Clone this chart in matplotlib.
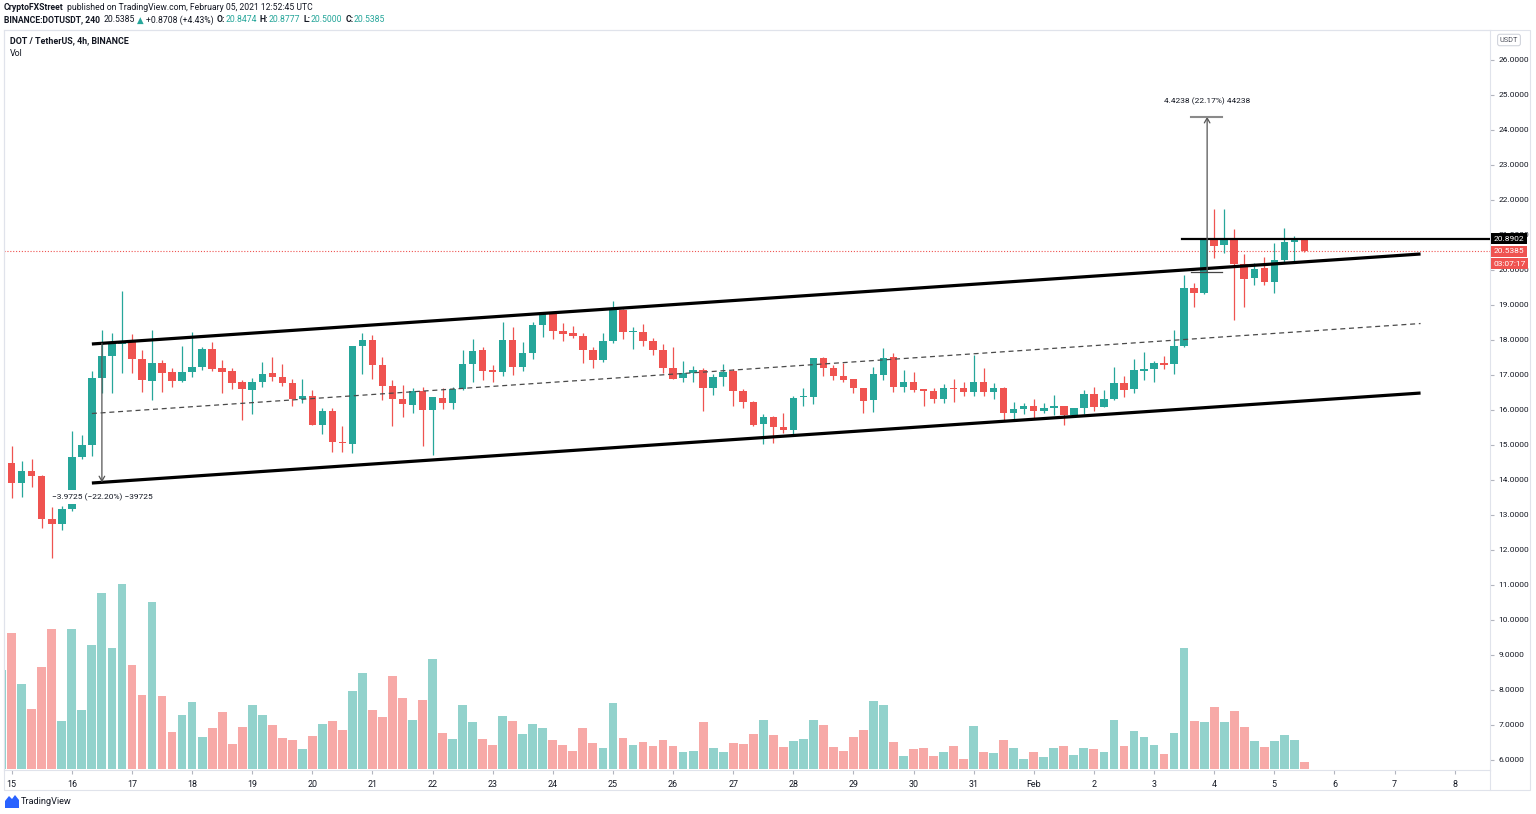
import matplotlib
matplotlib.use("Agg")
import matplotlib.pyplot as plt
from matplotlib import font_manager
from matplotlib.patches import Rectangle, Polygon
from matplotlib.lines import Line2D
from matplotlib.transforms import blended_transform_factory

# ---------------------------------------------------------------- data
# 4h candles of DOT/USDT (Binance). Index 0 = 15 Jan 2021 00:00 UTC, first entry = index -1.
first_candle = -1
opens = [12.71,
    14.49, 13.90, 14.27, 14.11, 12.88, 12.73,   # 15 Jan
    13.17, 14.65, 15.01, 16.92, 17.54, 17.89,   # 16
    17.93, 17.46, 16.84, 17.33, 17.08, 16.83,   # 17
    17.08, 17.22, 17.74, 17.19, 17.11, 16.79,   # 18
    16.57, 16.81, 17.05, 16.94, 16.77, 16.30,   # 19
    16.40, 15.56, 15.97, 15.09, 15.03, 17.83,   # 20
    17.99, 17.29, 16.69, 16.32, 16.15, 16.53,   # 21
    15.99, 16.34, 16.21, 16.59, 17.30, 17.70,   # 22
    17.14, 17.08, 17.99, 17.23, 17.64, 18.44,   # 23
    18.73, 18.26, 18.19, 18.12, 17.70, 17.43,   # 24
    17.97, 18.86, 18.22, 18.24, 17.98, 17.70,   # 25
    17.21, 16.92, 17.05, 17.14, 16.62, 16.95,   # 26
    17.12, 16.55, 16.22, 15.60, 15.79, 15.50,   # 27
    15.43, 16.36, 16.38, 17.48, 17.21, 16.98,   # 28
    16.88, 16.64, 16.29, 17.00, 17.51, 16.67,   # 29
    16.81, 16.59, 16.55, 16.30, 16.62, 16.64,   # 30
    16.52, 16.81, 16.50, 16.62, 15.92, 16.02,   # 31
    16.11, 15.98, 16.05, 16.11, 15.86, 16.05,   # 1 Feb
    16.45, 16.09, 16.30, 16.76, 16.59, 17.12,   # 2
    17.17, 17.33, 17.31, 17.83, 19.48, 19.35,   # 3
    20.89, 20.70, 20.89, 20.16, 19.76, 20.05,   # 4
    19.67, 20.29, 20.79, 20.8474]               # 5
highs = [14.55,
    14.98, 14.54, 14.60, 14.14, 13.24, 13.26,
    15.40, 15.29, 17.10, 18.29, 18.19, 19.40,
    18.17, 17.71, 18.29, 17.43, 17.19, 17.84,
    18.22, 17.81, 17.95, 17.43, 17.19, 16.86,
    16.90, 17.38, 17.50, 17.31, 16.88, 16.88,
    16.57, 16.05, 16.05, 15.54, 17.83, 18.21,
    18.14, 17.50, 16.86, 16.71, 16.62, 16.65,
    16.38, 16.64, 16.65, 17.71, 18.02, 17.81,
    17.29, 18.50, 18.36, 17.95, 18.52, 18.81,
    18.81, 18.48, 18.40, 18.21, 17.81, 18.19,
    19.11, 18.88, 18.36, 18.46, 18.07, 17.88,
    17.81, 17.40, 17.26, 17.19, 17.03, 17.31,
    17.16, 16.59, 16.26, 15.89, 15.83, 15.90,
    16.40, 16.64, 17.48, 17.52, 17.29, 17.33,
    16.88, 16.64, 17.24, 17.76, 17.62, 17.14,
    17.08, 16.59, 16.62, 16.73, 16.89, 16.79,
    17.57, 17.19, 16.76, 16.65, 16.22, 16.21,
    16.31, 16.21, 16.43, 16.12, 16.07, 16.57,
    16.67, 16.57, 17.24, 16.98, 17.45, 17.67,
    17.41, 17.55, 18.29, 19.86, 19.62, 20.92,
    21.74, 21.74, 21.16, 20.46, 20.19, 20.36,
    20.76, 21.21, 20.98, 20.8777]
lows = [12.65,
    13.48, 13.52, 13.81, 12.64, 11.76, 12.57,
    13.10, 14.60, 14.69, 16.48, 16.48, 17.05,
    17.05, 16.50, 16.29, 16.52, 16.67, 16.81,
    16.93, 17.14, 17.10, 16.48, 16.59, 15.70,
    15.89, 16.65, 16.84, 16.69, 16.10, 16.19,
    15.56, 15.31, 14.81, 14.81, 14.78, 17.02,
    16.88, 16.28, 15.55, 15.81, 15.90, 14.98,
    14.71, 16.03, 16.03, 16.58, 16.81, 16.86,
    16.81, 16.98, 17.00, 17.10, 17.46, 18.08,
    18.03, 17.98, 18.05, 17.33, 17.21, 17.38,
    17.92, 18.02, 17.74, 17.84, 17.57, 17.07,
    16.89, 16.81, 16.81, 15.98, 16.43, 16.69,
    16.10, 16.05, 15.54, 15.02, 15.07, 15.33,
    15.27, 16.10, 16.17, 16.98, 16.86, 16.81,
    16.48, 15.92, 15.95, 16.86, 16.50, 16.52,
    16.50, 16.11, 16.19, 16.21, 16.24, 16.41,
    16.41, 16.40, 16.30, 15.71, 15.70, 15.89,
    15.73, 15.92, 15.86, 15.57, 15.81, 15.88,
    15.98, 16.08, 16.28, 16.38, 16.48, 16.86,
    16.79, 17.17, 17.03, 17.81, 18.95, 19.30,
    20.35, 20.48, 18.57, 18.95, 19.57, 19.57,
    19.33, 20.24, 20.26, 20.50]
closes = [14.49,
    13.91, 14.27, 14.11, 12.88, 12.74, 13.17,
    14.65, 15.01, 16.92, 17.54, 17.89, 17.95,
    17.46, 16.86, 17.35, 17.05, 16.83, 17.08,
    17.24, 17.74, 17.18, 17.08, 16.78, 16.59,
    16.81, 17.02, 16.95, 16.76, 16.30, 16.40,
    15.56, 15.97, 15.08, 15.05, 17.83, 17.99,
    17.29, 16.69, 16.32, 16.16, 16.55, 15.99,
    16.36, 16.21, 16.59, 17.31, 17.69, 17.11,
    17.08, 17.99, 17.23, 17.64, 18.44, 18.73,
    18.26, 18.18, 18.12, 17.70, 17.43, 17.97,
    18.86, 18.22, 18.24, 17.98, 17.70, 17.21,
    16.89, 17.05, 17.14, 16.62, 16.95, 17.09,
    16.55, 16.22, 15.57, 15.79, 15.50, 15.43,
    16.34, 16.38, 17.48, 17.21, 16.97, 16.86,
    16.62, 16.27, 17.02, 17.48, 16.67, 16.81,
    16.57, 16.55, 16.31, 16.62, 16.60, 16.52,
    16.81, 16.51, 16.62, 15.90, 16.03, 16.11,
    15.98, 16.05, 16.11, 15.86, 16.05, 16.45,
    16.09, 16.31, 16.76, 16.57, 17.14, 17.17,
    17.33, 17.29, 17.83, 19.48, 19.35, 20.89,
    20.69, 20.89, 20.16, 19.73, 20.03, 19.65,
    20.29, 20.81, 20.88, 20.5385]
# volume, thousand DOT (estimated)
volumes = [990,
    1357, 847, 603, 1017, 1397, 480,
    1400, 590, 1240, 1763, 1207, 1850,
    1037, 740, 1670, 730, 373, 537,
    670, 320, 413, 570, 247, 423,
    643, 543, 437, 313, 287, 197,
    327, 450, 483, 390, 780, 963,
    590, 523, 930, 713, 490, 690,
    1100, 360, 300, 643, 467, 300,
    237, 530, 480, 353, 447, 413,
    290, 243, 180, 413, 257, 210,
    663, 310, 243, 270, 230, 290,
    230, 173, 180, 467, 210, 167,
    257, 250, 353, 493, 340, 217,
    277, 303, 487, 440, 223, 180,
    320, 387, 683, 637, 270, 133,
    200, 207, 133, 167, 230, 100,
    433, 167, 160, 290, 207, 100,
    167, 120, 207, 230, 140, 207,
    200, 167, 487, 230, 383, 317,
    237, 147, 363, 1207, 480, 473,
    617, 467, 580, 420, 277, 223,
    283, 337, 290, 73]
day_labels = ['15', '16', '17', '18', '19', '20', '21', '22', '23', '24', '25', '26',
              '27', '28', '29', '30', '31', 'Feb', '2', '3', '4', '5', '6', '7', '8']
price_ticks = list(range(6, 27))
# drawings (candle index, price)
channel_x = [8, 140.6]
channel_upper = [17.886, 20.457]
channel_width = 3.9725
resistance_x0 = 116.8
resistance = 20.8902
last_price = 20.5385
countdown = '03:07:17'
measure1_x = 9
measure1_text = '\u22123.9725 (\u221222.20%) \u221239725'
measure2_x = 119.3
measure2_bottom, measure2_top = 19.954, 24.3778
measure2_text = '4.4238 (22.17%) 44238'

# ---------------------------------------------------------------- style
installed = {f.name for f in font_manager.fontManager.ttflist}
if 'Liberation Sans Narrow' in installed:
    FAM = ['Liberation Sans Narrow', 'DejaVu Sans']
    S = 1.0
else:
    FAM = ['Roboto', 'DejaVu Sans']
    S = 0.86
plt.rcParams['font.family'] = FAM

GREEN, RED = '#26a69a', '#ef5350'
VGREEN, VRED = '#92d2cc', '#f7a9a7'
TXT, BORDER = '#131722', '#e0e3eb'

W, H = 1536, 814
fig = plt.figure(figsize=(W / 100, H / 100), dpi=100)
fig.patch.set_facecolor('white')


def fx(px):
    return px / W


def fy(py):
    return 1 - py / H


ax = fig.add_axes([fx(4), fy(770), fx(1490) - fx(4), fy(30) - fy(770)])
xs = [first_candle + k for k in range(len(opens))]
up = [c >= o for o, c in zip(opens, closes)]
ccol = [GREEN if u else RED for u in up]
vcol = [VGREEN if u else VRED for u in up]

# volume pane overlay
axv = ax.twinx()
axv.bar(xs, volumes, width=0.88, color=vcol, linewidth=0)
axv.set_ylim(-10, 7390)
axv.axis('off')

# candles
ax.vlines(xs, lows, highs, colors=ccol, linewidth=0.9, zorder=2)
ax.bar(xs, [max(abs(c - o), 0.03) for o, c in zip(opens, closes)],
       bottom=[min(o, c) for o, c in zip(opens, closes)],
       width=0.74, color=ccol, linewidth=0, zorder=3)

ax.set_xlim(-0.77, 147.53)
ax.set_ylim(5.714, 26.857)

# channel
lower = [u - channel_width for u in channel_upper]
mid = [u - channel_width / 2 for u in channel_upper]
ax.plot(channel_x, channel_upper, color='black', lw=2.3, solid_capstyle='butt', zorder=4)
ax.plot(channel_x, lower, color='black', lw=2.3, solid_capstyle='butt', zorder=4)
ax.plot(channel_x, mid, color='#4a4a4a', lw=0.9, ls=(0, (4, 3)), zorder=4)

# resistance + last price
ax.plot([resistance_x0, 150], [resistance, resistance], color='black', lw=1.6, zorder=4)
ax.axhline(last_price, color=RED, lw=0.8, ls=(0, (1, 1.6)), zorder=1)

# measurement 1 (channel height)
slope = (channel_upper[1] - channel_upper[0]) / (channel_x[1] - channel_x[0])
m1_top = channel_upper[0] + slope * (measure1_x - channel_x[0])
m1_bot = m1_top - channel_width
ax.annotate('', xy=(measure1_x, m1_bot), xytext=(measure1_x, m1_top),
            arrowprops=dict(arrowstyle='->,head_length=0.35,head_width=0.2', color='#555555',
                            lw=0.9, shrinkA=0, shrinkB=0), zorder=5)
ax.annotate(measure1_text, xy=(measure1_x, m1_bot), xytext=(0, -10.5), textcoords='offset points',
            ha='center', va='center', fontsize=7.0 * S, color=TXT,
            bbox=dict(fc='white', ec='none', pad=2.5), zorder=6)

# measurement 2 (target)
ax.annotate('', xy=(measure2_x, measure2_top), xytext=(measure2_x, measure2_bottom),
            arrowprops=dict(arrowstyle='->,head_length=0.35,head_width=0.2', color='#555555',
                            lw=0.9, shrinkA=0, shrinkB=0), zorder=5)
ax.plot([measure2_x - 1.6, measure2_x + 1.5], [measure2_top] * 2, color='#8a8a8a', lw=1.5, zorder=5)
ax.plot([measure2_x - 1.6, measure2_x + 1.5], [measure2_bottom] * 2, color='#444444', lw=0.9, zorder=5)
ax.annotate(measure2_text, xy=(measure2_x, measure2_top), xytext=(0, 11), textcoords='offset points',
            ha='center', va='center', fontsize=7.0 * S, color=TXT, zorder=6)

# axes styling
ax.yaxis.tick_right()
ax.set_yticks(price_ticks)
ax.set_yticklabels([f'{p:.4f}' for p in price_ticks])
ax.tick_params(axis='y', right=True, left=False, labelright=True, labelleft=False,
               length=3, width=0.8, color='#b2b5be', labelsize=7.0 * S, labelcolor=TXT, pad=3)
ax.set_xticks([6 * k for k in range(len(day_labels))])
ax.set_xticklabels(day_labels)
ax.tick_params(axis='x', length=3, width=0.8, color='#b2b5be', labelsize=7.4 * S,
               labelcolor=TXT, pad=4)
for sp in ax.spines.values():
    sp.set_color(BORDER)
    sp.set_linewidth(0.8)

# price-scale labels
trans = blended_transform_factory(ax.transAxes, ax.transData)
lx = 1.0 + 3.5 / 1486
ax.text(lx, resistance, f'{resistance:.4f}', transform=trans, ha='left', va='center',
        fontsize=7.0 * S, color='white', clip_on=False, zorder=20,
        bbox=dict(boxstyle='square,pad=0.3', fc='black', ec='none'))
ax.text(lx, last_price, f'{last_price:.4f}', transform=trans, ha='left', va='center',
        fontsize=7.0 * S, color='white', clip_on=False, zorder=20,
        bbox=dict(boxstyle='square,pad=0.3', fc=RED, ec='none'))
ax.annotate(countdown, xy=(lx, last_price), xycoords=trans, xytext=(0, -9.2),
            textcoords='offset points', ha='left', va='center', fontsize=7.0 * S,
            color='white', annotation_clip=False, zorder=20,
            bbox=dict(boxstyle='square,pad=0.3', fc=RED, ec='none'))

# frame around chart + scales
fig.add_artist(Rectangle((fx(4), fy(790)), fx(1530) - fx(4), fy(30) - fy(790),
                         transform=fig.transFigure, fill=False, ec=BORDER, lw=0.8))
fig.add_artist(Line2D([fx(1490), fx(1490)], [fy(770), fy(790)], transform=fig.transFigure,
                      color=BORDER, lw=0.8))

fig.text(fx(1509), fy(40), 'USDT', ha='center', va='center', fontsize=6.2 * S, color='#50535e',
         bbox=dict(boxstyle='round,pad=0.3,rounding_size=0.3', fc='white', ec='#d1d4dc', lw=0.8))

# header text
renderer = fig.canvas.get_renderer()


def pieces(x_px, y_px, parts, size):
    x = x_px
    for s, color, weight, gap in parts:
        t = fig.text(fx(x), fy(y_px), s, color=color, fontsize=size, fontweight=weight,
                     ha='left', va='center')
        x += t.get_window_extent(renderer=renderer).width + gap


pieces(4, 8, [('CryptoFXStreet', TXT, 'bold', 3),
              ('published on TradingView.com, February 05, 2021 12:52:45 UTC', TXT, 'normal', 0)],
       7.2 * S)
pieces(4, 20, [('BINANCE:DOTUSDT, 240', TXT, 'bold', 4),
               ('20.5385', TXT, 'normal', 2), ('\u25b2', GREEN, 'normal', 2),
               ('+0.8708 (+4.43%)', TXT, 'normal', 3),
               ('O:', TXT, 'bold', 0.5), ('20.8474', GREEN, 'normal', 3),
               ('H:', TXT, 'bold', 0.5), ('20.8777', GREEN, 'normal', 3),
               ('L:', TXT, 'bold', 0.5), ('20.5000', GREEN, 'normal', 3),
               ('C:', TXT, 'bold', 0.5), ('20.5385', GREEN, 'normal', 0)],
       7.2 * S)

fig.text(fx(10), fy(41), 'DOT / TetherUS, 4h, BINANCE', fontsize=7.4 * S, fontweight='bold',
         color=TXT, ha='left', va='center')
fig.text(fx(10), fy(53), 'Vol', fontsize=7.4 * S, color=TXT, ha='left', va='center')

# TradingView logo
fig.add_artist(Polygon([(fx(5), fy(808)), (fx(5), fy(801)), (fx(9), fy(796)), (fx(12), fy(799)),
                        (fx(15), fy(795)), (fx(19), fy(800)), (fx(19), fy(808))],
                       closed=True, transform=fig.transFigure, fc='#2962ff', ec='none'))
fig.text(fx(21), fy(801), 'TradingView', fontsize=7.6 * S, color=TXT, ha='left', va='center')

fig.savefig('out.png', dpi=100)
